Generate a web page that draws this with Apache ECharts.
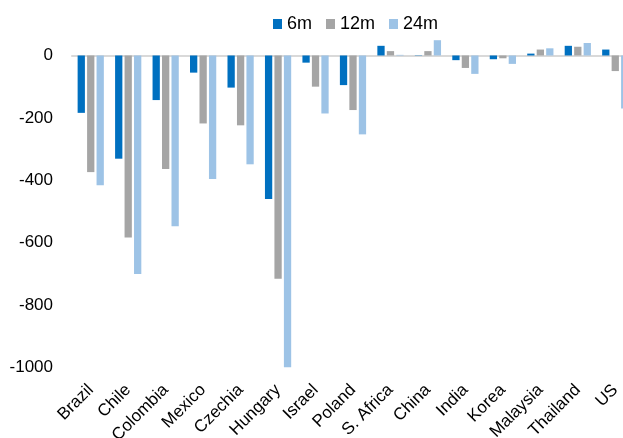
<!DOCTYPE html>
<html>
<head>
<meta charset="utf-8">
<script src="https://cdn.jsdelivr.net/npm/echarts@6/dist/echarts.min.js"></script>
<style>
  html, body { margin: 0; padding: 0; background: #fff; }
  #chart { width: 623px; height: 438px; }
</style>
</head>
<body>
<div id="chart"></div>
<script>
// Countries along the category axis
const categories = ['Brazil', 'Chile', 'Colombia', 'Mexico', 'Czechia', 'Hungary', 'Israel',
  'Poland', 'S. Africa', 'China', 'India', 'Korea', 'Malaysia', 'Thailand', 'US'];

// Change over each horizon
const values6m  = [-184, -331, -143, -55, -103, -460, -23, -95, 31, 1, -15, -12, 6, 31, 19];
const values12m = [-374, -584, -364, -218, -224, -716, -100, -175, 14, 14, -40, -9, 19, 28, -50];
const values24m = [-416, -701, -548, -396, -349, -1000, -186, -253, 2, 49, -59, -27, 23, 40, -170];

const seriesNames = ['6m', '12m', '24m'];
const seriesColors = ['#0070C0', '#A5A5A5', '#9DC3E6'];

// Value axis range and step
const yMin = -1000;
const yMax = 100;
const yStep = 200;

const FONT = "'Liberation Sans', Arial, sans-serif";

const chart = echarts.init(document.getElementById('chart'), null, { renderer: 'canvas' });

const seriesData = [values6m, values12m, values24m];

chart.setOption({
  animation: false,
  backgroundColor: '#ffffff',
  textStyle: { fontFamily: FONT },
  legend: {
    top: 10,
    left: 268,
    itemWidth: 9,
    itemHeight: 10,
    itemGap: 14,
    icon: 'rect',
    textStyle: { fontFamily: FONT, fontSize: 18, color: '#000' },
    data: seriesNames
  },
  grid: {
    left: 72,
    top: 24.3,
    width: 562,
    height: 343,
    containLabel: false,
    outerBoundsMode: 'none'
  },
  xAxis: [
    {
      type: 'category',
      data: categories,
      position: 'bottom',
      axisLine: { show: false, onZero: false },
      axisTick: { show: false },
      axisLabel: {
        interval: 0,
        rotate: 45,
        margin: 20,
        fontFamily: FONT,
        fontSize: 17,
        color: '#000'
      }
    },
    {
      // zero baseline
      type: 'category',
      data: categories,
      position: 'bottom',
      axisLine: { show: true, onZero: true, lineStyle: { color: '#d9d9d9', width: 2 } },
      axisTick: { show: false },
      axisLabel: { show: false }
    }
  ],
  yAxis: {
    type: 'value',
    min: yMin,
    max: yMax,
    interval: yStep,
    axisLine: { show: false },
    axisTick: { show: false },
    splitLine: { show: false },
    axisLabel: {
      margin: 19,
      fontFamily: FONT,
      fontSize: 17,
      color: '#000',
      formatter: v => (v > 0 ? '' : String(v))
    }
  },
  series: seriesNames.map((name, i) => ({
    name,
    type: 'bar',
    xAxisIndex: 0,
    data: seriesData[i],
    itemStyle: { color: seriesColors[i] },
    barGap: '30%',
    barCategoryGap: '30%'
  }))
});
</script>
</body>
</html>
